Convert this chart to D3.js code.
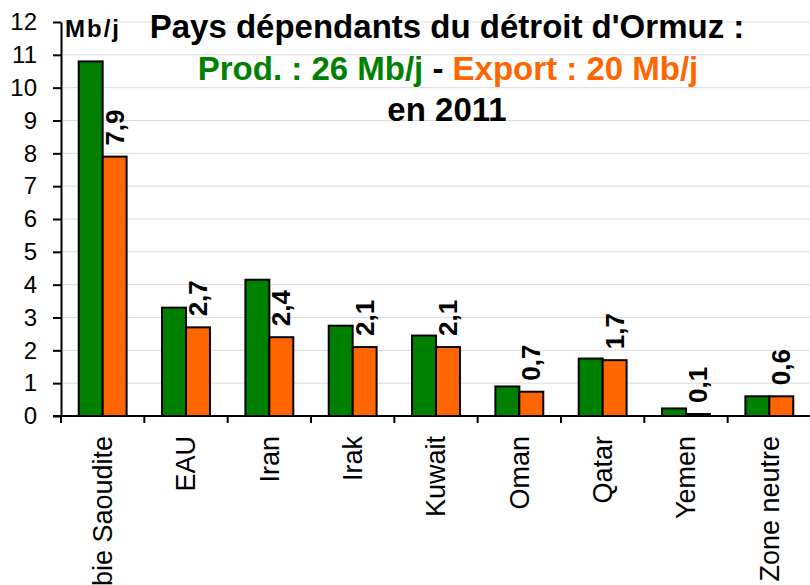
<!DOCTYPE html>
<html>
<head>
<meta charset="utf-8">
<script src="https://cdn.jsdelivr.net/npm/d3@7"></script>
<style>
  body { margin: 0; background: #fff; }
  svg { display: block; font-family: "Liberation Sans", Arial, sans-serif; }
</style>
</head>
<body>
<svg id="chart" width="810" height="585"></svg>
<script>
// pays, production et export (Mb/j) en 2011
var pays = ["Arabie Saoudite", "EAU", "Iran", "Irak", "Kuwait", "Oman", "Qatar", "Yemen", "Zone neutre"];
var production = [10.8, 3.3, 4.15, 2.75, 2.45, 0.9, 1.75, 0.23, 0.6];
var exportation = [7.9, 2.7, 2.4, 2.1, 2.1, 0.74, 1.7, 0.06, 0.6];
var yTicks = [0, 1, 2, 3, 4, 5, 6, 7, 8, 9, 10, 11, 12];

var vert = "#008000", orange = "#ff6600";

var svg = d3.select("#chart");
var fr = d3.formatLocale({decimal: ",", thousands: " ", grouping: [3], currency: ["", " €"]});
var fmt = fr.format(".1f");

var x = d3.scaleBand().domain(pays).range([61, 811]);
var serie = d3.scaleBand().domain(["prod", "exp"]).range([0, x.bandwidth()]).paddingOuter(0.74);
var y = d3.scaleLinear().domain([0, 12]).range([416, 22]);

// grille
svg.append("g").selectAll("line").data(yTicks.slice(1)).enter()
  .append("line")
  .attr("x1", 61).attr("x2", 810)
  .attr("y1", function(d) { return y(d); }).attr("y2", function(d) { return y(d); })
  .style("stroke", "#dcdcdc").style("stroke-width", 1);

// titre
var titre = svg.append("text").attr("text-anchor", "middle")
  .style("font-size", "33px").style("font-weight", "bold");
titre.append("tspan").attr("x", 447).attr("y", 38).text("Pays dépendants du détroit d'Ormuz :");
var l2 = titre.append("tspan").attr("x", 448).attr("y", 80);
l2.append("tspan").style("fill", vert).text("Prod. : 26 Mb/j");
l2.append("tspan").text(" - ");
l2.append("tspan").style("fill", orange).text("Export : 20 Mb/j");
titre.append("tspan").attr("x", 447).attr("y", 121).text("en 2011");

// barres
var groupes = svg.append("g").selectAll("g").data(pays).enter()
  .append("g").attr("transform", function(d) { return "translate(" + x(d) + ",0)"; });

groupes.append("rect")
  .attr("x", serie("prod")).attr("width", serie.bandwidth())
  .attr("y", function(d, i) { return y(production[i]); })
  .attr("height", function(d, i) { return y(0) - y(production[i]); })
  .style("fill", vert).style("stroke", "#000").style("stroke-width", 2);

groupes.append("rect")
  .attr("x", serie("exp")).attr("width", serie.bandwidth())
  .attr("y", function(d, i) { return y(exportation[i]); })
  .attr("height", function(d, i) { return y(0) - y(exportation[i]); })
  .style("fill", orange).style("stroke", "#000").style("stroke-width", 2);

// etiquettes export
groupes.append("text")
  .attr("transform", function(d, i) {
    return "translate(" + (serie("exp") + serie.bandwidth() / 2) + "," + (y(exportation[i]) - 11) + ") rotate(-90)";
  })
  .attr("dy", "0.35em")
  .style("font-size", "26px").style("font-weight", "bold")
  .text(function(d, i) { return fmt(exportation[i]); });

// axe y
var axeY = svg.append("g").attr("transform", "translate(61,0)")
  .call(d3.axisLeft(y).tickValues(yTicks).tickSizeInner(8).tickSizeOuter(0).tickPadding(16).tickFormat(d3.format("d")));
axeY.selectAll("path, line").style("stroke", "#000").style("stroke-width", 2);
axeY.selectAll("text").style("font-size", "24px").style("fill", "#000")
  .style("font-family", "'Liberation Sans', Arial, sans-serif");

// axe x
svg.append("line").attr("x1", 53).attr("x2", 810).attr("y1", y(0)).attr("y2", y(0))
  .style("stroke", "#000").style("stroke-width", 2);
svg.append("g").selectAll("line").data(pays).enter()
  .append("line")
  .attr("x1", function(d) { return x(d); }).attr("x2", function(d) { return x(d); })
  .attr("y1", y(0)).attr("y2", y(0) + 7)
  .style("stroke", "#000").style("stroke-width", 2);

svg.append("g").selectAll("text").data(pays).enter()
  .append("text")
  .attr("transform", function(d) { return "translate(" + (x(d) + x.bandwidth() / 2) + ",436) rotate(-90)"; })
  .attr("text-anchor", "end").attr("dy", "0.35em")
  .style("font-size", "27px")
  .text(function(d) { return d; });

// unite
svg.append("text").attr("x", 65).attr("y", 37)
  .style("font-size", "24px").style("font-weight", "bold").style("letter-spacing", "2px")
  .text("Mb/j");
</script>
</body>
</html>
